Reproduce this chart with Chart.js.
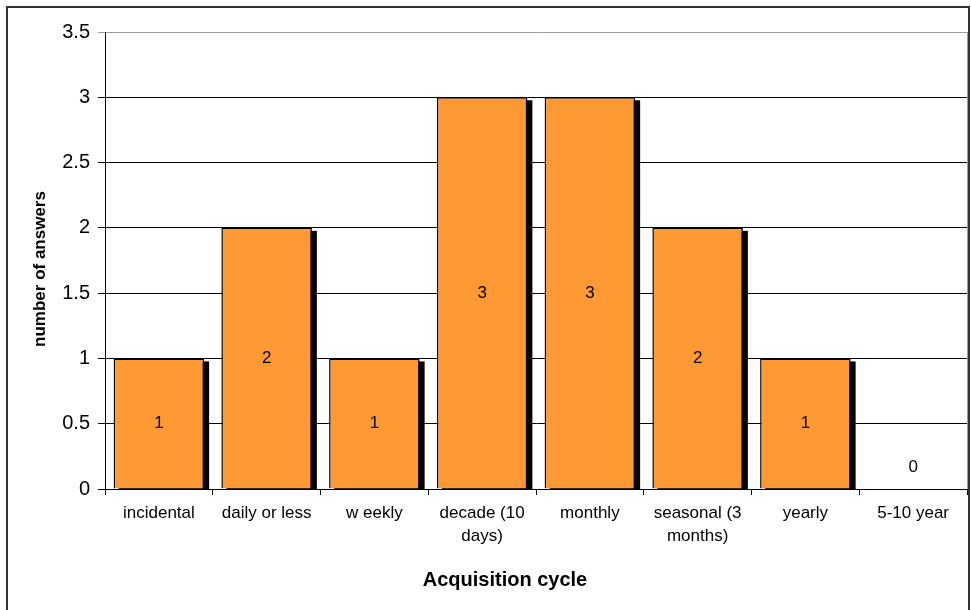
<!DOCTYPE html>
<html>
<head>
<meta charset="utf-8">
<script src="https://cdn.jsdelivr.net/npm/chart.js@4/dist/chart.umd.min.js"></script>
<style>
  html, body { margin: 0; padding: 0; background: #fff; }
  #wrap { width: 971px; height: 610px; }
</style>
</head>
<body>
<div id="wrap"><canvas id="chart" width="971" height="610"></canvas></div>
<script>
const categories = ['incidental', 'daily or less', 'w eekly', ['decade (10', 'days)'], 'monthly', ['seasonal (3', 'months)'], 'yearly', '5-10 year'];
const answers = [1, 2, 1, 3, 3, 2, 1, 0];
const yTicks = [0, 0.5, 1, 1.5, 2, 2.5, 3, 3.5];

const font = 'Arial, "Liberation Sans", sans-serif';

// frame, bar shadows, value labels, titles
const extras = {
    id: 'extras',
    beforeDatasetsDraw(chart) {
        const { ctx, chartArea } = chart;
        ctx.save();
        ctx.beginPath();
        ctx.rect(chartArea.left, chartArea.top, chartArea.right - chartArea.left, chartArea.bottom - chartArea.top);
        ctx.clip();
        ctx.fillStyle = '#000';
        chart.getDatasetMeta(0).data.forEach(bar => {
            const h = bar.base - bar.y;
            if (h <= 0) return;
            ctx.fillRect(bar.x - bar.width / 2 + 5, bar.y + 3, bar.width, h);
        });
        ctx.restore();
    },
    afterDatasetsDraw(chart) {
        const { ctx } = chart;
        ctx.save();
        ctx.fillStyle = '#000';
        ctx.font = '17px ' + font;
        ctx.textAlign = 'center';
        ctx.textBaseline = 'middle';
        chart.getDatasetMeta(0).data.forEach((bar, i) => {
            const y = answers[i] === 0 ? bar.base - 22 : (bar.y + bar.base) / 2;
            ctx.fillText(String(answers[i]), bar.x, y);
        });
        ctx.restore();
    },
    afterDraw(chart) {
        const { ctx, chartArea } = chart;
        ctx.save();
        // right edge of plot
        ctx.strokeStyle = '#999';
        ctx.lineWidth = 1;
        ctx.beginPath();
        ctx.moveTo(chartArea.right + 0.5, chartArea.top);
        ctx.lineTo(chartArea.right + 0.5, chartArea.bottom);
        ctx.stroke();
        // outer frame
        ctx.strokeStyle = '#333';
        ctx.lineWidth = 2;
        ctx.strokeRect(7, 7, 962, 620);
        // axis titles
        ctx.fillStyle = '#000';
        ctx.font = 'bold 20px ' + font;
        ctx.textAlign = 'center';
        ctx.textBaseline = 'middle';
        ctx.fillText('Acquisition cycle', 505, 580);
        ctx.font = 'bold 17px ' + font;
        ctx.translate(40, 269);
        ctx.rotate(-Math.PI / 2);
        ctx.fillText('number of answers', 0, 0);
        ctx.restore();
    }
};

new Chart(document.getElementById('chart'), {
    type: 'bar',
    data: {
        labels: categories,
        datasets: [{
            data: answers,
            backgroundColor: '#FF9933',
            borderColor: '#000',
            borderWidth: 1.5,
            categoryPercentage: 1,
            barPercentage: 0.84
        }]
    },
    options: {
        responsive: false,
        animation: false,
        layout: { padding: { top: 32, right: 4, left: 0, bottom: 0 } },
        plugins: { legend: { display: false }, tooltip: { enabled: false } },
        scales: {
            x: {
                grid: { display: true, drawOnChartArea: false, offset: true, tickLength: 6, color: '#000' },
                border: { color: '#000', width: 1 },
                ticks: { color: '#000', font: { family: font, size: 17, lineHeight: 1.4 }, padding: 6, maxRotation: 0, autoSkip: false },
                afterFit(scale) { scale.height = 121; }
            },
            y: {
                min: 0,
                max: 3.5,
                afterBuildTicks(scale) { scale.ticks = yTicks.map(v => ({ value: v })); },
                grid: {
                    color: ctx => (ctx.tick && ctx.tick.value === 3.5 ? '#999' : '#000'),
                    tickLength: 7,
                    lineWidth: 1
                },
                border: { color: '#000', width: 1 },
                ticks: { color: '#000', font: { family: font, size: 20 }, padding: 8, callback: v => String(v) },
                afterFit(scale) { scale.width = 105; }
            }
        }
    },
    plugins: [extras]
});
</script>
</body>
</html>
